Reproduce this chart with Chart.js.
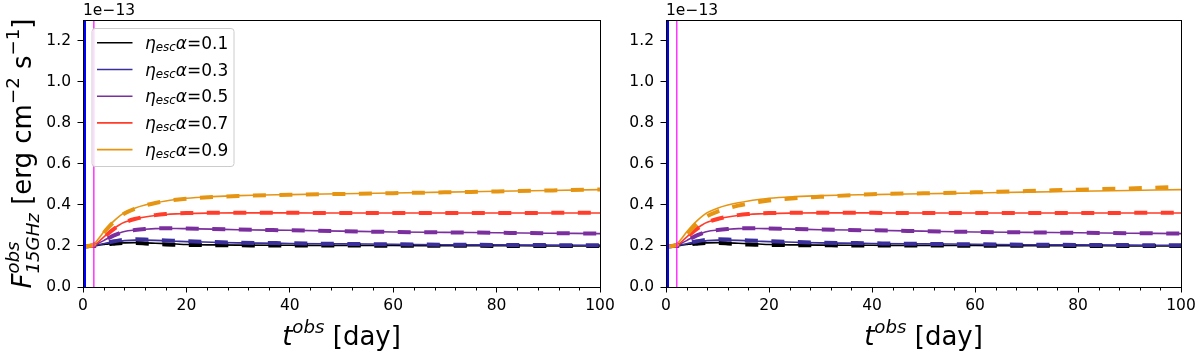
<!DOCTYPE html>
<html>
<head>
<meta charset="utf-8">
<script src="https://cdn.jsdelivr.net/npm/chart.js@4"></script>
<style>
  body { margin: 0; background: #fff; }
  #wrap { position: relative; width: 1200px; height: 357px; overflow: hidden; }
  canvas { position: absolute; top: 0; }
</style>
</head>
<body>
<div id="wrap">
  <canvas id="left-chart" width="625" height="357" style="left:0"></canvas>
  <canvas id="right-chart" width="600" height="357" style="left:600px"></canvas>
</div>
<script>
// time axis (days) and flux values in units of 1e-13
const days = [0, 1, 2, 3, 4, 5, 6, 7, 8, 10, 12, 14, 16, 18, 20, 25, 30, 40, 50, 60, 70, 80, 90, 100];

const solid01 = [0.198, 0.199, 0.200, 0.204, 0.207, 0.210, 0.212, 0.214, 0.215, 0.216, 0.215, 0.213, 0.211, 0.209, 0.207, 0.205, 0.204, 0.203, 0.202, 0.202, 0.201, 0.201, 0.200, 0.200];
const solid03 = [0.198, 0.199, 0.201, 0.206, 0.211, 0.216, 0.220, 0.223, 0.226, 0.228, 0.228, 0.227, 0.225, 0.223, 0.221, 0.218, 0.215, 0.212, 0.210, 0.208, 0.206, 0.205, 0.204, 0.203];
const solid05 = [0.198, 0.199, 0.202, 0.213, 0.226, 0.240, 0.252, 0.262, 0.270, 0.277, 0.281, 0.284, 0.285, 0.285, 0.284, 0.282, 0.279, 0.276, 0.272, 0.268, 0.266, 0.264, 0.262, 0.260];
const solid07 = [0.198, 0.199, 0.203, 0.220, 0.243, 0.265, 0.285, 0.302, 0.315, 0.331, 0.341, 0.348, 0.353, 0.356, 0.358, 0.360, 0.361, 0.361, 0.360, 0.360, 0.360, 0.360, 0.360, 0.360];
const solid09 = [0.198, 0.200, 0.207, 0.235, 0.268, 0.297, 0.322, 0.344, 0.362, 0.384, 0.399, 0.410, 0.419, 0.426, 0.432, 0.440, 0.445, 0.450, 0.454, 0.458, 0.462, 0.466, 0.470, 0.474];

const dash01 = [0.198, 0.199, 0.200, 0.203, 0.206, 0.209, 0.211, 0.213, 0.214, 0.214, 0.212, 0.209, 0.207, 0.206, 0.205, 0.204, 0.203, 0.202, 0.202, 0.201, 0.201, 0.200, 0.200, 0.200];
const dash03 = [0.198, 0.199, 0.201, 0.206, 0.212, 0.218, 0.223, 0.227, 0.230, 0.232, 0.231, 0.229, 0.227, 0.225, 0.223, 0.219, 0.216, 0.213, 0.210, 0.208, 0.206, 0.205, 0.204, 0.203];
const dash05 = [0.198, 0.199, 0.202, 0.212, 0.225, 0.239, 0.251, 0.261, 0.269, 0.277, 0.282, 0.285, 0.286, 0.286, 0.285, 0.283, 0.280, 0.276, 0.272, 0.268, 0.266, 0.264, 0.262, 0.260];
const dash07 = [0.198, 0.199, 0.203, 0.219, 0.241, 0.263, 0.283, 0.300, 0.314, 0.331, 0.342, 0.350, 0.355, 0.358, 0.360, 0.361, 0.361, 0.361, 0.360, 0.360, 0.360, 0.360, 0.361, 0.362];
const dash09 = [0.198, 0.200, 0.206, 0.232, 0.264, 0.293, 0.318, 0.340, 0.358, 0.381, 0.397, 0.409, 0.418, 0.425, 0.430, 0.438, 0.443, 0.449, 0.453, 0.457, 0.461, 0.465, 0.470, 0.475];
const dashRight09 = [0.198, 0.199, 0.205, 0.226, 0.255, 0.282, 0.306, 0.328, 0.345, 0.367, 0.383, 0.396, 0.406, 0.414, 0.421, 0.432, 0.439, 0.452, 0.456, 0.461, 0.467, 0.474, 0.480, 0.487];

const alphaLabels = ['0.1', '0.3', '0.5', '0.7', '0.9'];
const seriesColors = ['#000000', '#3b2f9b', '#7b2f9f', '#ff3d2a', '#e69512'];

const xTicks = [0, 20, 40, 60, 80, 100];
const xMinorTicks = [4, 8, 12, 16, 24, 28, 32, 36, 44, 48, 52, 56, 64, 68, 72, 76, 84, 88, 92, 96];
const yTicks = [0, 0.2, 0.4, 0.6, 0.8, 1.0, 1.2];
const yRange = [0, 1.3];
const blueLineDay = 0;
const magentaLineDay = 2.1;

Chart.defaults.font.family = '"DejaVu Sans"';
Chart.defaults.font.size = 15.5;
Chart.defaults.color = '#000';

function toPoints(values) {
    return days.map((d, i) => ({ x: d, y: values[i] }));
}

// draws a string made of pieces (italic, super/subscript) - like mathtext
function layoutRich(ctx, parts, size) {
    let x = 0, prevStart = 0, maxX = 0;
    const placed = [];
    parts.forEach(p => {
        const s = size * (p.sc || 1);
        const font = (p.it ? 'italic ' : '') + s + 'px "DejaVu Sans"';
        ctx.font = font;
        const w = ctx.measureText(p.t).width;
        const start = p.stack ? prevStart : x;
        placed.push({ t: p.t, font, x: start, dy: (p.dy || 0) * size });
        prevStart = start;
        x = Math.max(x, start + w);
        maxX = Math.max(maxX, x);
    });
    return { placed, width: maxX };
}

function drawRich(ctx, parts, x, y, size, align) {
    const lay = layoutRich(ctx, parts, size);
    const ox = align === 'center' ? x - lay.width / 2 : x;
    ctx.textBaseline = 'alphabetic';
    ctx.textAlign = 'left';
    ctx.fillStyle = '#000';
    lay.placed.forEach(p => {
        ctx.font = p.font;
        ctx.fillText(p.t, ox + p.x, y - p.dy);
    });
}

const xTitle = [
    { t: 't', it: true },
    { t: 'obs', it: true, sc: 0.7, dy: 0.45 },
    { t: ' [day]' }
];
const yTitle = [
    { t: 'F', it: true },
    { t: 'obs', it: true, sc: 0.7, dy: 0.45 },
    { t: '15GHz', it: true, sc: 0.7, dy: -0.3, stack: true },
    { t: ' [erg cm' },
    { t: '\u22122', sc: 0.7, dy: 0.45 },
    { t: ' s' },
    { t: '\u22121', sc: 0.7, dy: 0.45 },
    { t: ']' }
];

const decorPlugin = {
    id: 'decor',
    afterDatasetsDraw(chart, args, opts) {
        const ctx = chart.ctx;
        const a = chart.chartArea;
        const xs = chart.scales.x;
        ctx.save();
        // box around the axes
        ctx.strokeStyle = '#000';
        ctx.lineWidth = 1;
        ctx.strokeRect(Math.round(a.left) + 0.5, Math.round(a.top) + 0.5, Math.round(a.right - a.left), Math.round(a.bottom - a.top));
        // minor ticks on x
        ctx.beginPath();
        xMinorTicks.forEach(v => {
            const px = Math.round(xs.getPixelForValue(v)) + 0.5;
            ctx.moveTo(px, a.bottom);
            ctx.lineTo(px, a.bottom + 3.5);
        });
        ctx.stroke();

        // offset text
        ctx.font = '15.5px "DejaVu Sans"';
        ctx.fillStyle = '#000';
        ctx.textAlign = 'left';
        ctx.textBaseline = 'alphabetic';
        ctx.fillText('1e\u221213', a.left, 15);

        // axis titles
        drawRich(ctx, xTitle, (a.left + a.right) / 2, 345, 26, 'center');
        if (opts.yTitle) {
            ctx.save();
            ctx.translate(31, (a.top + a.bottom) / 2);
            ctx.rotate(-Math.PI / 2);
            drawRich(ctx, yTitle, 0, 0, 26, 'center');
            ctx.restore();
        }

        if (opts.legend) {
            const lx = a.left + 9, ly = a.top + 8.5, lw = 142, lh = 138;
            ctx.beginPath();
            ctx.roundRect(lx, ly, lw, lh, 3);
            ctx.fillStyle = 'rgba(255,255,255,0.8)';
            ctx.fill();
            ctx.strokeStyle = '#cccccc';
            ctx.stroke();
            alphaLabels.forEach((lab, i) => {
                const yy = ly + 14.3 + i * 26.7;
                ctx.beginPath();
                ctx.strokeStyle = seriesColors[i];
                ctx.lineWidth = 1.6;
                ctx.moveTo(lx + 5, yy);
                ctx.lineTo(lx + 40.5, yy);
                ctx.stroke();
                drawRich(ctx, [
                    { t: '\u03b7', it: true },
                    { t: 'esc', it: true, sc: 0.7, dy: -0.13 },
                    { t: '\u03b1', it: true },
                    { t: '=' + lab }
                ], lx + 53, yy + 6, 17, 'left');
            });
        }
        ctx.restore();
    }
};

function makeDatasets(dashSets) {
    const sets = [];
    const solids = [solid01, solid03, solid05, solid07, solid09];
    // vertical markers
    sets.push({
        data: [{ x: magentaLineDay, y: yRange[0] }, { x: magentaLineDay, y: yRange[1] }],
        borderColor: '#ff00ff', borderWidth: 1.2, order: 0
    });
    sets.push({
        data: [{ x: blueLineDay, y: yRange[0] }, { x: blueLineDay, y: yRange[1] }],
        borderColor: '#0000ff', borderWidth: 6, order: 0,
        clip: { left: 0, top: 0, right: 0, bottom: 0 }
    });
    solids.forEach((vals, i) => {
        sets.push({
            label: 'η_esc α=' + alphaLabels[i],
            data: toPoints(vals),
            borderColor: seriesColors[i],
            borderWidth: 1.6,
            order: 20 - i
        });
    });
    dashSets.forEach((vals, i) => {
        sets.push({
            data: toPoints(vals),
            borderColor: seriesColors[i],
            borderWidth: 4,
            borderDash: [13, 13.5],
            borderCapStyle: 'butt',
            order: 10 - i
        });
    });
    return sets;
}

function makeChart(canvasId, dashSets, yWidth, padRight, opts) {
    const ctx = document.getElementById(canvasId).getContext('2d');
    return new Chart(ctx, {
        type: 'line',
        data: { datasets: makeDatasets(dashSets) },
        options: {
            responsive: false,
            animation: false,
            events: [],
            layout: { padding: { top: 20, right: padRight, left: 0, bottom: 0 } },
            elements: {
                point: { radius: 0 },
                line: { cubicInterpolationMode: 'monotone', fill: false }
            },
            scales: {
                x: {
                    type: 'linear',
                    min: 0, max: 100,
                    afterBuildTicks: s => { s.ticks = xTicks.map(v => ({ value: v })); },
                    afterFit: s => { s.height = 70; },
                    grid: { drawOnChartArea: false, drawTicks: true, tickLength: 5.5, tickColor: '#000', tickWidth: 1 },
                    border: { display: false },
                    ticks: { padding: 4, maxRotation: 0, callback: v => v }
                },
                y: {
                    type: 'linear',
                    min: yRange[0], max: yRange[1],
                    afterBuildTicks: s => { s.ticks = yTicks.map(v => ({ value: v })); },
                    afterFit: s => { s.width = yWidth; },
                    grid: { drawOnChartArea: false, drawTicks: true, tickLength: 5.5, tickColor: '#000', tickWidth: 1 },
                    border: { display: false },
                    ticks: { padding: 6.5, callback: v => v.toFixed(1) }
                }
            },
            plugins: {
                legend: { display: false },
                tooltip: { enabled: false },
                decor: opts
            }
        },
        plugins: [decorPlugin]
    });
}

makeChart('left-chart', [dash01, dash03, dash05, dash07, dash09], 83, 25, { legend: true, yTitle: true });
makeChart('right-chart', [dash01, dash03, dash05, dash07, dashRight09], 66, 19, { legend: false, yTitle: false });
</script>
</body>
</html>
